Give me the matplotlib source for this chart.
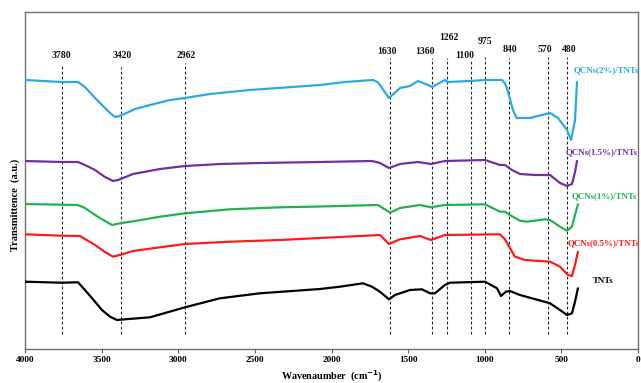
import matplotlib
matplotlib.use("Agg")
import matplotlib.pyplot as plt

# ---------------- data ----------------
wn_2 = [4000, 3765, 3654, 3609, 3543, 3478, 3445, 3413, 3380, 3282, 3184, 3054, 2956, 2793, 2532, 2075,
        1912, 1729, 1700, 1684, 1625, 1553, 1488, 1436, 1370, 1344, 1260, 1240, 1096, 998, 888, 870,
        855, 816, 792, 705, 574, 522, 463, 437, 411, 398]
t_2 = [269, 267, 267, 262, 251, 241, 236, 232, 233, 240, 244, 249, 251, 255, 259, 264,
       267, 269, 267, 264, 251, 261, 263, 268, 264, 262, 269, 267, 268, 269, 269, 266,
       261, 239, 231, 231, 236, 231, 219, 209, 229, 267]

wn_15 = [4000, 3765, 3654, 3609, 3543, 3478, 3426, 3393, 3295, 3119, 2956, 2728, 2467, 2075, 1736, 1684,
         1625, 1553, 1436, 1351, 1260, 998, 901, 868, 823, 770, 672, 574, 509, 463, 431, 411, 398]
t_15 = [188, 187, 187, 184, 179, 172, 168, 169, 175, 180, 183, 185, 186, 187, 188, 186,
        181, 185, 187, 185, 188, 189, 184, 184, 179, 175, 174, 174, 166, 163, 165, 177, 188]

wn_1 = [4000, 3765, 3654, 3609, 3543, 3478, 3432, 3380, 3282, 3119, 2956, 2662, 2336, 2075, 1697, 1618,
        1553, 1423, 1351, 1260, 998, 901, 868, 836, 770, 724, 607, 574, 509, 463, 431, 411, 392]
t_1 = [145, 144.3, 144, 141, 134, 128, 124, 125.7, 128, 132.3, 135.7, 139.7, 141.7, 142.5, 144, 136.3,
       141, 144, 141.7, 144, 144.7, 137.3, 137.3, 134, 128.3, 127.3, 129.7, 129, 122.3, 118.3, 122.3, 134, 144.7]

wn_05 = [4000, 3765, 3641, 3609, 3543, 3478, 3426, 3380, 3295, 3119, 2956, 2662, 2336, 2075, 1684, 1625,
         1553, 1423, 1351, 1260, 901, 868, 803, 738, 574, 509, 457, 431, 411, 392]
t_05 = [114.7, 113.3, 113, 110, 104, 97, 92.3, 94, 98, 101.7, 105, 107.3, 109, 111, 114, 105,
        109.7, 113, 109, 114, 114.7, 109.7, 92.3, 89, 87.3, 82.3, 74, 73, 84, 97.3]

wn_tnt = [4000, 3765, 3654, 3609, 3543, 3498, 3445, 3400, 3348, 3184, 2956, 2728, 2467, 2075, 1945, 1795,
          1736, 1684, 1625, 1586, 1488, 1410, 1357, 1325, 1260, 1227, 998, 920, 894, 862, 836, 770,
          574, 509, 463, 431, 411, 392]
t_tnt = [67.3, 66.3, 66.7, 59, 47.3, 39, 32.3, 29, 29.7, 31.7, 41.7, 50.7, 55.7, 60, 62.3, 65.7,
         62.3, 57.3, 49.7, 54, 59, 59.7, 55.7, 55.7, 64, 66.3, 67.3, 60.7, 53, 57.3, 58, 54,
         45.7, 39, 34, 35.7, 47.3, 60.7]

series_names = ["QCNs(2%)/TNTs", "QCNs(1.5%)/TNTs", "QCNs(1%)/TNTs", "QCNs(0.5%)/TNTs", "TNTs"]

peak_labels = ["3780", "3420", "2962", "1630", "1360", "1262", "1100", "975", "840", "570", "480"]
peak_lines = [3761, 3373, 2956, 1618, 1346, 1246, 1092, 1000, 844, 585, 466]

x_ticks = [4000, 3500, 3000, 2500, 2000, 1500, 1000, 500, 0]

# ---------------- layout / style ----------------
colors = ["#29ABE2", "#7030A0", "#22B14C", "#FF1A1A", "#000000"]
series = [(wn_2, t_2), (wn_15, t_15), (wn_1, t_1), (wn_05, t_05), (wn_tnt, t_tnt)]
name_pos = [(209, 279), (235, 197), (222, 153), (225, 106), (228, 68)]

peak_label_pos = [(3761, 293), (3369, 293), (2950, 293), (1640, 297), (1390, 297), (1231, 311),
                  (1129, 294), (998, 308), (836, 299), (607, 300), (452, 300)]
line_top = [284, 282, 286, 291, 291, 291, 289, 292, 291, 292, 292]

serif = ["Liberation Serif", "DejaVu Serif"]

fig = plt.figure(figsize=(6.41, 3.83), dpi=100)
ax = fig.add_axes([25 / 641, 34 / 383, 613 / 641, 337 / 383])

for (x, y), c in zip(series, colors):
    ax.plot(x, y, color=c, lw=1.6, solid_joinstyle="round", solid_capstyle="round", zorder=3)

for xl, top in zip(peak_lines, line_top):
    ax.plot([xl, xl], [15, top], color="#222222", lw=0.8, ls=(0, (2.5, 2)), zorder=2)

for lab, (px, py) in zip(peak_labels, peak_label_pos):
    ax.text(px, py, lab, ha="center", va="center", fontsize=7, fontweight="bold",
            family=serif, color="#111111")

for name, (px, py), c in zip(series_names, name_pos, colors):
    ax.text(px, py, name, ha="center", va="center", fontsize=6.4, fontweight="bold",
            family=serif, color=c)

ax.set_xlim(4000, 0)
ax.set_ylim(0, 337)
ax.set_xticks(x_ticks)
ax.set_xticklabels([str(t) for t in x_ticks], fontsize=6.7, fontweight="bold", family=serif)
ax.tick_params(axis="x", direction="out", length=3, width=0.8, color="#606060", pad=2)
ax.set_yticks([])
for s in ax.spines.values():
    s.set_color("#707070")
    s.set_linewidth(1.0)

fig.text(332 / 641, 1 - 380 / 383, "Wavenaumber  (cm$^{\\mathbf{-1}}$)", ha="center", va="baseline",
         fontsize=7.3, fontweight="bold", family=serif)
fig.text(15 / 641, 1 - 205 / 383, "Transmittence  (a.u.)", rotation=90, ha="center", va="center",
         fontsize=7.5, fontweight="bold", family=serif)

fig.savefig("out.png", dpi=100)
